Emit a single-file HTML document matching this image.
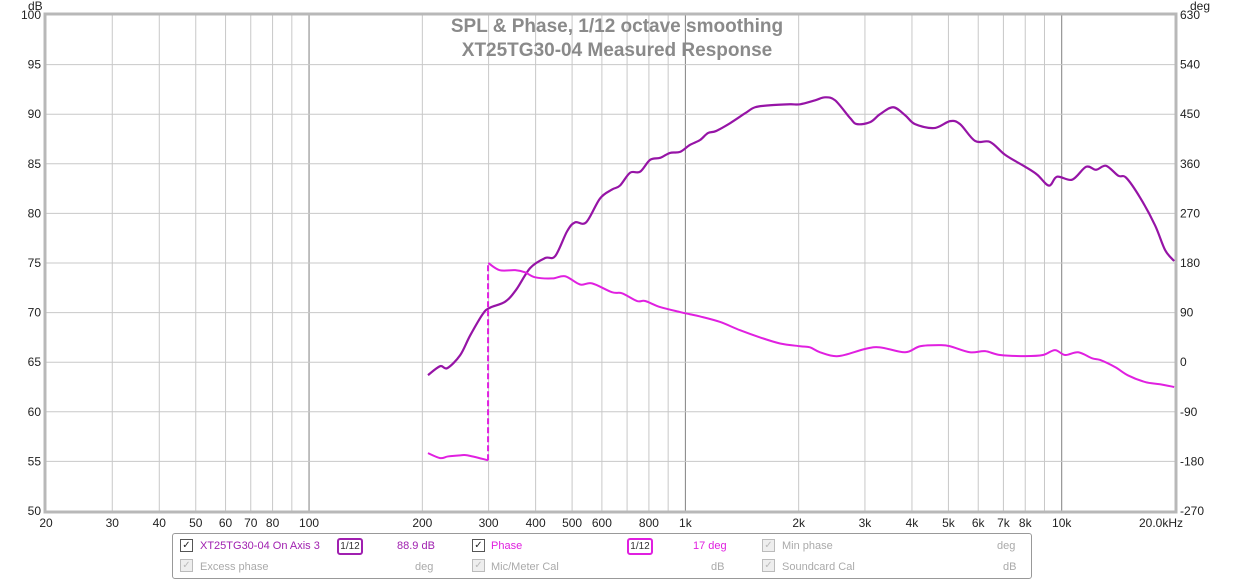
<!DOCTYPE html>
<html><head><meta charset="utf-8">
<style>
body{margin:0;background:#fff;width:1233px;height:583px;overflow:hidden;font-family:"Liberation Sans",sans-serif}
svg{position:absolute;left:0;top:0}
.t{font-size:12px;fill:#222}
.lg{position:absolute;left:172px;top:533px;width:858px;height:44px;border:1px solid #999;border-radius:3px;font-size:11px;font-family:"Liberation Sans",sans-serif}
.it{position:absolute;height:14px;line-height:14px}
.cb{position:absolute;width:11px;height:11px;border:1px solid #555;font-size:10px;line-height:11px;text-align:center;color:#222}
.cb.d{border-color:#bbb;color:#bbb;background:#eee}
.sm{position:absolute;width:22px;height:13px;border:2px solid #a020b0;border-radius:3px;font-size:10px;line-height:13px;text-align:center;color:#333}
</style></head><body>
<svg width="1233" height="583">
<g id="grid"></g>
<g id="labels"></g>
<text x="617" y="32" text-anchor="middle" font-size="19" font-weight="bold" fill="#8a8a8a">SPL &amp; Phase, 1/12 octave smoothing</text>
<text x="617" y="56" text-anchor="middle" font-size="19" font-weight="bold" fill="#8a8a8a">XT25TG30-04 Measured Response</text>
<g id="series"></g>
</svg>
<div class="lg">
 <div class="cb" style="left:7px;top:5px">✓</div>
 <div class="it" style="left:27px;top:5px;color:#a020b0">XT25TG30-04 On Axis 3</div>
 <div class="sm" style="left:164px;top:4px">1/12</div>
 <div class="it" style="left:224px;top:5px;color:#a020b0">88.9 dB</div>
 <div class="cb" style="left:299px;top:5px">✓</div>
 <div class="it" style="left:318px;top:5px;color:#e020e0">Phase</div>
 <div class="sm" style="left:454px;top:4px;border-color:#e020e0">1/12</div>
 <div class="it" style="left:520px;top:5px;color:#e020e0">17 deg</div>
 <div class="cb d" style="left:589px;top:5px">✓</div>
 <div class="it" style="left:609px;top:5px;color:#aaa">Min phase</div>
 <div class="it" style="left:824px;top:5px;color:#aaa">deg</div>
 <div class="cb d" style="left:7px;top:25px">✓</div>
 <div class="it" style="left:27px;top:26px;color:#aaa">Excess phase</div>
 <div class="it" style="left:242px;top:26px;color:#aaa">deg</div>
 <div class="cb d" style="left:299px;top:25px">✓</div>
 <div class="it" style="left:318px;top:26px;color:#aaa">Mic/Meter Cal</div>
 <div class="it" style="left:538px;top:26px;color:#aaa">dB</div>
 <div class="cb d" style="left:589px;top:25px">✓</div>
 <div class="it" style="left:609px;top:26px;color:#aaa">Soundcard Cal</div>
 <div class="it" style="left:830px;top:26px;color:#aaa">dB</div>
</div>
<script>
const splFreq=[207,223,233,252,268,290,303,332,355,387,424,451,485,509,545,593,638,670,713,758,806,857,910,968,1028,1094,1148,1206,1315,1442,1532,1679,1897,2018,2212,2350,2500,2741,2859,3098,3290,3564,3836,4077,4582,5051,5369,5886,6454,7077,7998,8610,9250,9720,10660,11610,12340,13120,14130,14830,16150,17700,18830,19900];
const splDb=[63.7,64.6,64.4,65.7,67.7,69.9,70.5,71.1,72.3,74.5,75.5,75.7,78.2,79.1,79.1,81.5,82.4,82.8,84.1,84.2,85.4,85.6,86.1,86.2,86.9,87.4,88.1,88.3,89.1,90.1,90.7,90.9,91.0,91.0,91.4,91.7,91.4,89.6,89.0,89.2,90.0,90.7,89.9,89.0,88.6,89.3,89.0,87.3,87.2,85.9,84.7,83.9,82.8,83.7,83.4,84.7,84.4,84.8,83.8,83.6,81.6,78.8,76.3,75.2];
const phFreq=[207,223,234,252,264,299,299.5,321,353,375,399,443,479,525,565,638,679,744,782,857,968,1028,1094,1237,1397,1579,1785,2018,2143,2280,2546,3000,3290,3836,4205,4750,5051,5703,6255,6858,7998,8916,9593,10210,11060,12050,12650,13870,15010,16670,18250,19900];
const phDeg=[-165,-174,-171,-169,-169,-178,180,167,167,163,154,152,156,141,143,127,125,111,111,100,91,87,83,73,58,45,34,29,27,18,11,24,27,18,29,31,29,18,20,13,11,13,22,13,18,7,4,-9,-24,-36,-40,-45];
const xTicks=[20,30,40,50,60,70,80,100,200,300,400,500,600,800,1000,2000,3000,4000,5000,6000,7000,8000,10000,20000];
const xTickLabels=["20","30","40","50","60","70","80","100","200","300","400","500","600","800","1k","2k","3k","4k","5k","6k","7k","8k","10k","20.0kHz"];
const gridFreqs=[30,40,50,60,70,80,90,100,200,300,400,500,600,700,800,900,1000,2000,3000,4000,5000,6000,7000,8000,9000,10000];
const dbTicks=[50,55,60,65,70,75,80,85,90,95,100];
const degTicks=[-270,-180,-90,0,90,180,270,360,450,540,630];
const L=46,R=1175,T=15,B=511;
const x=f=>L+(R-L)*Math.log10(f/20)/3;
const yDb=d=>B-(d-50)*(B-T)/50;
const yDeg=d=>B-(d+270)*(B-T)/900;
const NS='http://www.w3.org/2000/svg';
function mk(t,a,p){const e=document.createElementNS(NS,t);for(const k in a)e.setAttribute(k,a[k]);p.appendChild(e);return e;}
function smooth(pts){let d='M'+pts[0][0]+','+pts[0][1];
 for(let i=0;i<pts.length-1;i++){const p0=pts[i-1]||pts[i],p1=pts[i],p2=pts[i+1],p3=pts[i+2]||p2;
  const c1=[p1[0]+(p2[0]-p0[0])/6,p1[1]+(p2[1]-p0[1])/6],c2=[p2[0]-(p3[0]-p1[0])/6,p2[1]-(p3[1]-p1[1])/6];
  d+=' C'+c1[0]+','+c1[1]+' '+c2[0]+','+c2[1]+' '+p2[0]+','+p2[1];}
 return d;}
const g=document.getElementById('grid'),lb=document.getElementById('labels'),s=document.getElementById('series');
gridFreqs.forEach(f=>{const dec=(f===100||f===1000||f===10000);
const l=mk('line',{x1:x(f),x2:x(f),y1:T,y2:B,stroke:dec?'#808080':'#c8c8c8','stroke-width':1},g);

});
dbTicks.forEach(d=>{const l=mk('line',{x1:L,x2:R,y1:yDb(d),y2:yDb(d),stroke:'#c8c8c8','stroke-width':1},g);


const t=mk('text',{x:41,y:yDb(d)+4,'text-anchor':'end',class:'t'},lb);t.textContent=d;

});
degTicks.forEach(d=>{const t=mk('text',{x:1180,y:yDeg(d)+4,class:'t'},lb);t.textContent=d;

});
xTicks.forEach((f,i)=>{const t=mk('text',{x:x(f)+(i==xTicks.length-1?-14:0),y:527,'text-anchor':'middle',class:'t'},lb);t.textContent=xTickLabels[i];

});
const fr=mk('rect',{x:L-1,y:T-1,width:R-L+2,height:B-T+2,fill:'none',stroke:'#b8b8b8','stroke-width':3},g);


let t1=mk('text',{x:28,y:10,class:'t'},lb);t1.textContent='dB';


let t2=mk('text',{x:1190,y:10,class:'t'},lb);t2.textContent='deg';


const sp=mk('path',{d:smooth(splFreq.map((f,i)=>[x(f),yDb(splDb[i])])),fill:'none',stroke:'#9614a6','stroke-width':2.2,'stroke-linejoin':'round'},s);


let seg=[];
phFreq.forEach((f,i)=>{
 if(i>0&&Math.abs(phDeg[i]-phDeg[i-1])>270){
  const p=mk('path',{d:smooth(seg),fill:'none',stroke:'#e020e0','stroke-width':2,'stroke-linejoin':'round'},s);
  
  
  const dl=mk('line',{x1:x(phFreq[i-1]),x2:x(phFreq[i-1]),y1:yDeg(phDeg[i-1]),y2:yDeg(phDeg[i]),stroke:'#e020e0','stroke-width':2,'stroke-dasharray':'6,3'},s);
  
  
  seg=[];
 }
 seg.push([x(f),yDeg(phDeg[i])]);
});
const p2=mk('path',{d:smooth(seg),fill:'none',stroke:'#e020e0','stroke-width':2,'stroke-linejoin':'round'},s);


</script>
</body></html>
